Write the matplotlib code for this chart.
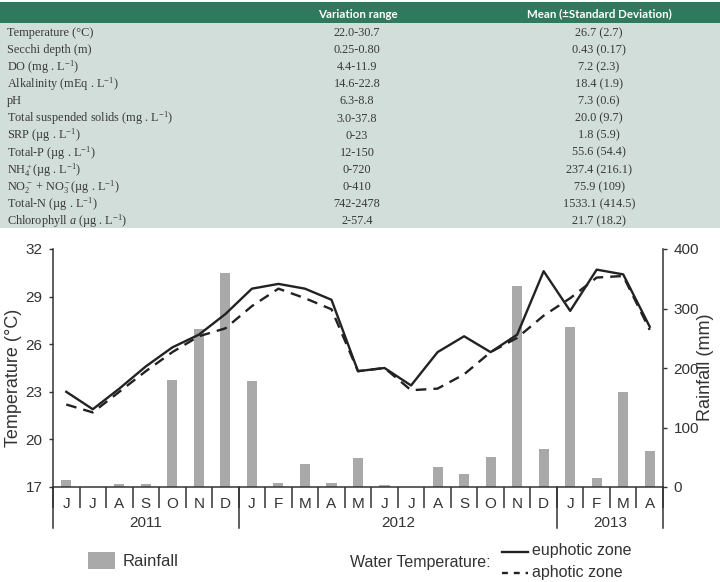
import numpy as np
import matplotlib
matplotlib.use('Agg')
import matplotlib.pyplot as plt
from matplotlib.patches import Rectangle
import matplotlib.transforms as mtransforms

plt.rcParams.update({'mathtext.fontset': 'custom',
                     'mathtext.rm': 'Liberation Serif',
                     'mathtext.it': 'Liberation Serif:italic',
                     'mathtext.bf': 'Liberation Serif:bold',
                     'font.family': 'Liberation Sans'})

# ---------------- table data
params = ['Temperature (°C)', 'Secchi depth (m)', 'DO (mg . L$^{-1}$)',
          'Alkalinity (mEq . L$^{-1}$)', 'pH',
          'Total suspended solids (mg . L$^{-1}$)', 'SRP (µg . L$^{-1}$)',
          'Total-P (µg . L$^{-1}$)', 'NH$_4^+$(µg . L$^{-1}$)',
          'NO$_2^-$ + NO$_3^-$(µg . L$^{-1}$)', 'Total-N (µg . L$^{-1}$)',
          'Chlorophyll $a$ (µg . L$^{-1}$)']
ranges = ['22.0-30.7', '0.25-0.80', '4.4-11.9', '14.6-22.8', '6.3-8.8', '3.0-37.8',
          '0-23', '12-150', '0-720', '0-410', '742-2478', '2-57.4']
means = ['26.7 (2.7)', '0.43 (0.17)', '7.2 (2.3)', '18.4 (1.9)', '7.3 (0.6)',
         '20.0 (9.7)', '1.8 (5.9)', '55.6 (54.4)', '237.4 (216.1)', '75.9 (109)',
         '1533.1 (414.5)', '21.7 (18.2)']
headers = ['Variation range', 'Mean (±Standard Deviation)']

# ---------------- chart data
months = ['J', 'J', 'A', 'S', 'O', 'N', 'D',
          'J', 'F', 'M', 'A', 'M', 'J', 'J', 'A', 'S', 'O', 'N', 'D',
          'J', 'F', 'M', 'A']
years = ['2011', '2012', '2013']
months_per_year = [7, 12, 4]
rain = [12, 0, 4.5, 5, 180, 265, 359, 178, 6, 39, 6.5, 48,
        3, 0, 34, 22, 51, 337, 64, 269, 15, 159, 60]
euphotic = [23.0, 21.9, 23.2, 24.6, 25.8, 26.6, 27.9, 29.5, 29.8, 29.5, 28.8, 24.3,
            24.5, 23.4, 25.5, 26.5, 25.5, 26.6, 30.6, 28.1, 30.7, 30.4, 27.1]
aphotic = [22.2, 21.7, 23.0, 24.3, 25.5, 26.5, 27.0, 28.4, 29.5, 28.9, 28.2, 24.3,
           24.5, 23.1, 23.2, 24.1, 25.5, 26.4, 27.8, 28.9, 30.2, 30.3, 26.9]

W, H = 720, 582
fig = plt.figure(figsize=(W/100., H/100.), dpi=100)

# overlay in pixel coordinates for the table and legend
ov = fig.add_axes([0, 0, 1, 1], zorder=0)
ov.set_xlim(0, W)
ov.set_ylim(H, 0)
ov.axis('off')

ov.add_patch(Rectangle((0, 2), W, 21, color='#2f7a5f', lw=0))
ov.add_patch(Rectangle((0, 23), W, 205, color='#d1ded9', lw=0))
txt = '#3a3a3a'
ov.text(358, 14, headers[0], ha='center', va='center', color='white',
        family='Lato', weight='bold', fontsize=8.3)
ov.text(599, 14, headers[1], ha='center', va='center', color='white',
        family='Lato', weight='bold', fontsize=8.3)
for i in range(len(params)):
    y = 33 + i*17.1
    ov.text(7, y, params[i], ha='left', va='center', color=txt,
            family='Liberation Serif', fontsize=8.8)
    ov.text(357, y, ranges[i], ha='center', va='center', color=txt,
            family='Liberation Serif', fontsize=8.8)
    ov.text(599, y, means[i], ha='center', va='center', color=txt,
            family='Liberation Serif', fontsize=8.8)

# ---------------- chart
x0, x1, yb, yt = 53, 663, 487, 249
ax = fig.add_axes([x0/W, (H-yb)/H, (x1-x0)/W, (yb-yt)/H], zorder=2)
ax2 = ax.twinx()
ax.set_zorder(ax2.get_zorder()+1)
ax.patch.set_visible(False)

x = np.arange(len(months))
bars = ax2.bar(x, rain, width=0.38, color='#a9a9a9', zorder=1)
ax.plot(x, euphotic, '-', color='#222222', lw=1.7)
ax.plot(x, aphotic, '--', color='#222222', lw=1.7, dashes=(4.5, 3))

ax.set_xlim(-0.5, len(months)-0.5)
ax.set_ylim(17, 32)
ax.set_yticks(np.arange(17, 33, 3))
ax2.set_ylim(0, 400)
ax2.set_yticks(np.arange(0, 401, 100))

tick_col = '#333333'
for a in (ax, ax2):
    a.spines['top'].set_visible(False)
    for s in a.spines.values():
        s.set_color(tick_col)
        s.set_linewidth(1.1)
ax.spines['right'].set_visible(False)
ax2.spines['left'].set_visible(False)
ax2.spines['bottom'].set_visible(False)

ax.tick_params(axis='y', direction='out', length=3, width=1, colors=tick_col,
               labelsize=11, pad=4.5)
ax2.tick_params(axis='y', direction='out', length=3, width=1, colors=tick_col,
                labelsize=11, pad=4.5)

ax.set_xticks(x)
ax.set_xticklabels(months)
ax.set_xticks(np.arange(-0.5, len(months), 1), minor=True)
ax.tick_params(axis='x', which='major', length=0, pad=7, labelsize=11, colors=tick_col)
ax.tick_params(axis='x', which='minor', direction='out', length=15, width=1.1,
               color=tick_col)

# year separators and labels
trans = mtransforms.blended_transform_factory(ax.transData, ax.transAxes)
edges = np.concatenate([[0], np.cumsum(months_per_year)]) - 0.5
for e in edges:
    ax.plot([e, e], [0, -41/238.], color=tick_col, lw=1.1, transform=trans,
            clip_on=False)
for i in range(len(years)):
    ax.text((edges[i]+edges[i+1])/2., -36/238., years[i], transform=trans,
            ha='center', va='center', fontsize=11, color=tick_col)

ax.set_ylabel('Temperature (°C)', fontsize=13, color='#333333')
ax.yaxis.set_label_coords(-0.051, 0.458)
ax2.set_ylabel('Rainfall (mm)', fontsize=13, color='#333333')
ax2.yaxis.set_label_coords(1.056, 0.504)

# ---------------- legend
ov.add_patch(Rectangle((88, 552), 27, 17, color='#a9a9a9', lw=0))
ov.text(123, 561, 'Rainfall', ha='left', va='center', fontsize=12, color='#333333')
ov.text(350, 563, 'Water Temperature:', ha='left', va='center', fontsize=11.5,
        color='#333333')
ov.plot([502, 528], [552, 552], '-', color='#222222', lw=1.7)
ov.plot([502, 528], [573, 573], '--', color='#222222', lw=1.7, dashes=(2.5, 2.5))
ov.text(532, 551, 'euphotic zone', ha='left', va='center', fontsize=11.5, color='#333333')
ov.text(532, 572, 'aphotic zone', ha='left', va='center', fontsize=11.5, color='#333333')

fig.savefig('out.png', dpi=100)
